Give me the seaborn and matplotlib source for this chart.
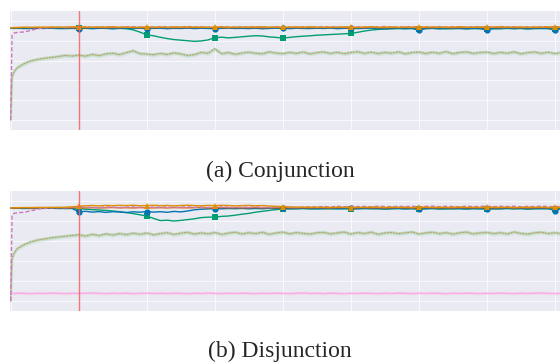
import matplotlib
matplotlib.use("Agg")
import matplotlib.pyplot as plt
import seaborn as sns
import numpy as np

# ---------------- data ----------------
X = [0, 2, 5] + list(range(10, 820, 10))          # episodes (84 points)
mark_x = [100, 200, 300, 400, 500, 600, 700, 800]
split_x = 100

# Panel (a) Conjunction
orange_a = [.928,.930,.932,.934,.936,.935,.938,.936,.939,.935,.937,.940,
            .941,.938,.935,.939,.937,.941,.936,.938,.934,.937,.939,.936,
            .938,.935,.940,.937,.939,.936,.938,.934,.937,.940,.936,.938,
            .935,.939,.937,.941,.936,.938,.935,.937,.939,.936,.940,.937,
            .935,.938,.936,.939,.937,.934,.938,.940,.936,.937,.939,.935,
            .938,.936,.940,.937,.939,.935,.938,.936,.941,.937,.935,.939,
            .936,.938,.940,.936,.937,.939,.935,.938,.936,.940,.937,.938]
verm_a = [.930,.931,.933,.932,.934,.933,.931,.934,.932,.935,.933,.931,
          .934,.932,.935,.933,.931,.934,.932,.936,.933,.931,.934,.932,
          .935,.933,.931,.934,.932,.935,.933,.936,.932,.934,.931,.933,
          .935,.932,.934,.931,.933,.935,.932,.934,.933,.931,.935,.932,
          .934,.932,.935,.933,.931,.934,.932,.936,.933,.931,.934,.932,
          .935,.933,.931,.934,.932,.935,.933,.931,.934,.932,.936,.933,
          .931,.934,.932,.935,.933,.931,.934,.932,.935,.933,.931,.934]
pink_a = [.000,.860,.878,.884,.889,.905,.922,.930,.934,.936,.933,.938,
          .936,.940,.937,.935,.941,.938,.936,.939,.942,.937,.935,.940,
          .938,.941,.936,.939,.943,.937,.940,.936,.938,.942,.939,.936,
          .940,.937,.942,.938,.935,.940,.943,.938,.936,.941,.939,.937,
          .942,.938,.940,.936,.943,.939,.937,.941,.938,.944,.936,.940,
          .939,.942,.937,.940,.938,.943,.936,.941,.939,.937,.942,.938,
          .940,.937,.943,.939,.941,.936,.940,.938,.942,.939,.937,.941]
blue_a = [.925,.926,.924,.927,.925,.923,.926,.924,.927,.925,.922,.926,
          .920,.927,.923,.925,.926,.922,.925,.927,.924,.926,.923,.925,
          .926,.922,.925,.924,.927,.923,.926,.924,.922,.925,.927,.924,
          .925,.923,.926,.921,.924,.927,.925,.922,.926,.924,.923,.926,
          .924,.927,.922,.925,.926,.923,.925,.927,.924,.921,.925,.926,
          .923,.925,.905,.924,.926,.922,.927,.924,.925,.922,.926,.924,
          .908,.925,.923,.927,.924,.926,.922,.925,.924,.926,.905,.925]
teal_a = [.925,.924,.926,.925,.923,.926,.924,.927,.925,.923,.926,.924,
          .927,.925,.923,.926,.924,.922,.925,.921,.910,.887,.860,.850,
          .835,.822,.812,.806,.800,.794,.798,.808,.830,.836,.829,.834,
          .840,.846,.851,.848,.839,.834,.827,.834,.841,.846,.850,.856,
          .859,.863,.866,.870,.874,.885,.898,.908,.914,.918,.920,.922,
          .921,.923,.920,.922,.924,.921,.919,.922,.923,.920,.922,.921,
          .923,.920,.922,.924,.921,.923,.919,.922,.924,.921,.920,.922]
olive_a = [.000,.430,.490,.530,.570,.598,.612,.624,.632,.641,.652,.646,
           .655,.645,.662,.650,.668,.674,.661,.680,.699,.670,.666,.659,
           .672,.662,.678,.667,.652,.660,.683,.674,.718,.670,.681,.664,
           .676,.685,.674,.669,.688,.676,.670,.683,.673,.686,.668,.680,
           .687,.672,.684,.670,.681,.689,.673,.685,.671,.682,.675,.688,
           .669,.681,.686,.672,.684,.674,.690,.670,.682,.687,.673,.681,
           .685,.671,.683,.674,.688,.668,.681,.686,.673,.684,.671,.682]

# Panel (b) Disjunction
orange_b = [.928,.930,.932,.933,.935,.934,.936,.935,.937,.936,.938,.941,
            .948,.952,.955,.951,.956,.953,.957,.954,.958,.952,.955,.957,
            .953,.956,.951,.955,.958,.954,.952,.956,.953,.957,.955,.951,
            .954,.956,.952,.955,.950,.947,.944,.941,.939,.937,.940,.936,
            .938,.935,.939,.937,.934,.938,.936,.940,.937,.935,.939,.936,
            .938,.934,.937,.939,.936,.938,.935,.937,.940,.936,.938,.935,
            .937,.939,.936,.938,.934,.937,.939,.936,.938,.935,.937,.939]
verm_b = [.929,.930,.932,.931,.933,.930,.932,.934,.931,.933,.930,.932,
          .934,.931,.933,.930,.932,.935,.931,.933,.930,.934,.932,.931,
          .933,.930,.934,.932,.931,.933,.935,.930,.932,.934,.931,.933,
          .930,.932,.934,.931,.933,.930,.935,.932,.931,.933,.930,.934,
          .932,.931,.933,.935,.930,.932,.934,.931,.933,.930,.932,.934,
          .931,.933,.930,.935,.932,.931,.933,.930,.934,.932,.931,.933,
          .935,.930,.932,.934,.931,.933,.930,.932,.934,.931,.933,.930]
pink_b = [.000,.860,.876,.882,.888,.902,.918,.928,.933,.935,.932,.937,
          .935,.939,.936,.934,.940,.937,.935,.938,.941,.936,.934,.939,
          .937,.940,.935,.938,.942,.936,.939,.935,.937,.941,.938,.935,
          .939,.936,.941,.937,.934,.939,.942,.937,.935,.940,.938,.943,
          .945,.941,.947,.943,.948,.944,.946,.942,.949,.945,.943,.947,
          .944,.948,.942,.946,.949,.943,.947,.945,.942,.948,.944,.946,
          .949,.943,.947,.945,.948,.942,.946,.944,.949,.945,.943,.947]
blue_b = [.927,.928,.926,.929,.927,.925,.928,.926,.929,.927,.924,.926,
          .892,.897,.889,.894,.886,.893,.890,.885,.892,.888,.895,.889,
          .893,.887,.896,.891,.900,.912,.918,.921,.924,.922,.925,.923,
          .926,.922,.925,.923,.927,.924,.926,.922,.925,.927,.923,.926,
          .924,.927,.922,.925,.926,.923,.925,.927,.924,.921,.925,.926,
          .923,.925,.920,.924,.926,.922,.927,.924,.925,.922,.926,.924,
          .921,.925,.923,.927,.924,.926,.922,.925,.924,.926,.904,.925]
teal_b = [.927,.926,.928,.927,.925,.928,.926,.929,.927,.925,.928,.926,
          .925,.918,.914,.910,.906,.900,.893,.884,.874,.862,.850,.826,
          .804,.808,.800,.806,.814,.822,.834,.838,.840,.846,.850,.858,
          .868,.876,.888,.897,.906,.914,.920,.923,.921,.924,.922,.920,
          .923,.921,.924,.922,.920,.923,.925,.921,.923,.920,.922,.924,
          .921,.923,.920,.922,.924,.921,.919,.922,.923,.920,.922,.921,
          .923,.920,.922,.924,.921,.923,.919,.922,.924,.921,.920,.922]
olive_b = [.000,.420,.480,.525,.565,.592,.610,.621,.633,.640,.648,.655,
           .662,.650,.667,.655,.671,.660,.674,.664,.678,.667,.680,.662,
           .674,.683,.665,.678,.687,.669,.681,.672,.685,.666,.679,.688,
           .671,.683,.674,.687,.667,.680,.689,.672,.684,.676,.669,.683,
           .686,.672,.681,.690,.670,.684,.675,.688,.667,.680,.685,.673,
           .682,.690,.670,.681,.688,.674,.684,.669,.682,.689,.672,.681,
           .686,.674,.683,.671,.690,.676,.669,.682,.688,.675,.683,.672]
pinklow_b = [.075,.078,.076,.079,.077,.074,.078,.076,.080,.077,.075,.078,
             .076,.079,.081,.077,.075,.078,.076,.079,.074,.077,.080,.076,
             .078,.075,.079,.077,.074,.078,.076,.080,.077,.075,.078,.076,
             .079,.077,.074,.078,.076,.079,.077,.075,.078,.081,.076,.078,
             .075,.079,.077,.074,.078,.076,.079,.077,.075,.078,.076,.080,
             .077,.075,.078,.076,.079,.077,.074,.078,.076,.079,.077,.075,
             .078,.076,.080,.077,.075,.078,.076,.079,.081,.077,.075,.078]

captions = ["(a) Conjunction", "(b) Disjunction"]

# ---------------- style ----------------
sns.set_theme(style="darkgrid")
plt.rcParams["axes.facecolor"] = "#EAEAF2"

pal = sns.color_palette("colorblind")
C_BLUE, C_ORANGE, C_GREEN, C_VERM, C_PURPLE, C_BROWN, C_PINK = (
    pal[0], pal[1], pal[2], pal[3], pal[4], pal[5], pal[6])

fig = plt.figure(figsize=(5.6, 3.62), dpi=100)
W, H = 560.0, 362.0
ax_a = fig.add_axes([10 / W, (H - 130) / H, 551 / W, 119 / H])
ax_b = fig.add_axes([10 / W, (H - 311) / H, 551 / W, 120 / H])

Xa = np.array(X)
mk_idx = [X.index(m) for m in mark_x]


def draw_panel(ax, orange, verm, pink, blue, teal, olive, pinklow=None):
    lw = 1.0
    # olive curve with light green band
    ol = np.array(olive)
    ax.fill_between(Xa, ol - 0.02, ol + 0.02, color="#8fd19e", alpha=0.25, lw=0)
    sns.lineplot(x=Xa, y=ol, ax=ax, color="#a9d8b0", linewidth=1.8, alpha=0.7)
    sns.lineplot(x=Xa, y=ol, ax=ax, color=C_BROWN, linewidth=0.7, alpha=0.95,
                 linestyle=(0, (2, 1)))
    if pinklow is not None:
        pl = np.array(pinklow)
        ax.fill_between(Xa, pl - 0.012, pl + 0.012, color=C_PINK, alpha=0.3, lw=0)
        sns.lineplot(x=Xa, y=pl, ax=ax, color=C_PINK, linewidth=1.1)
    sns.lineplot(x=Xa, y=teal, ax=ax, color=C_GREEN, linewidth=lw,
                 marker="s", markersize=4.5, markevery=mk_idx, markeredgewidth=0)
    sns.lineplot(x=Xa, y=blue, ax=ax, color=C_BLUE, linewidth=lw,
                 marker="o", markersize=4.5, markevery=mk_idx, markeredgewidth=0)
    sns.lineplot(x=Xa, y=verm, ax=ax, color=C_VERM, linewidth=lw, alpha=0.85)
    sns.lineplot(x=Xa, y=pink, ax=ax, color=C_PURPLE, linewidth=lw,
                 linestyle=(0, (3, 1.5)))
    sns.lineplot(x=Xa, y=orange, ax=ax, color=C_ORANGE, linewidth=lw,
                 marker="^", markersize=4, markevery=mk_idx, markeredgewidth=0)
    ax.axvline(split_x, color="#f55f5f", linewidth=1.0, alpha=0.85, zorder=5)

    ax.set_xlim(-1, 809)
    ax.set_ylim(-0.1, 1.1)
    ax.set_xticks(np.arange(0, 900, 100))
    ax.set_yticks(np.arange(0, 1.01, 0.2))
    ax.set_xticklabels([])
    ax.set_yticklabels([])
    ax.tick_params(length=0)
    ax.set_xlabel("")
    ax.set_ylabel("")
    ax.grid(True, color="white", linewidth=0.8, alpha=0.75)
    for s in ax.spines.values():
        s.set_visible(False)


draw_panel(ax_a, orange_a, verm_a, pink_a, blue_a, teal_a, olive_a)
draw_panel(ax_b, orange_b, verm_b, pink_b, blue_b, teal_b, olive_b, pinklow_b)

fig.text(0.5, 1 - 171 / H, captions[0], ha="center", va="center",
         fontsize=17, family=["Liberation Serif", "DejaVu Serif"])
fig.text(0.5, 1 - 351 / H, captions[1], ha="center", va="center",
         fontsize=17, family=["Liberation Serif", "DejaVu Serif"])

fig.savefig("out.png", dpi=100)
